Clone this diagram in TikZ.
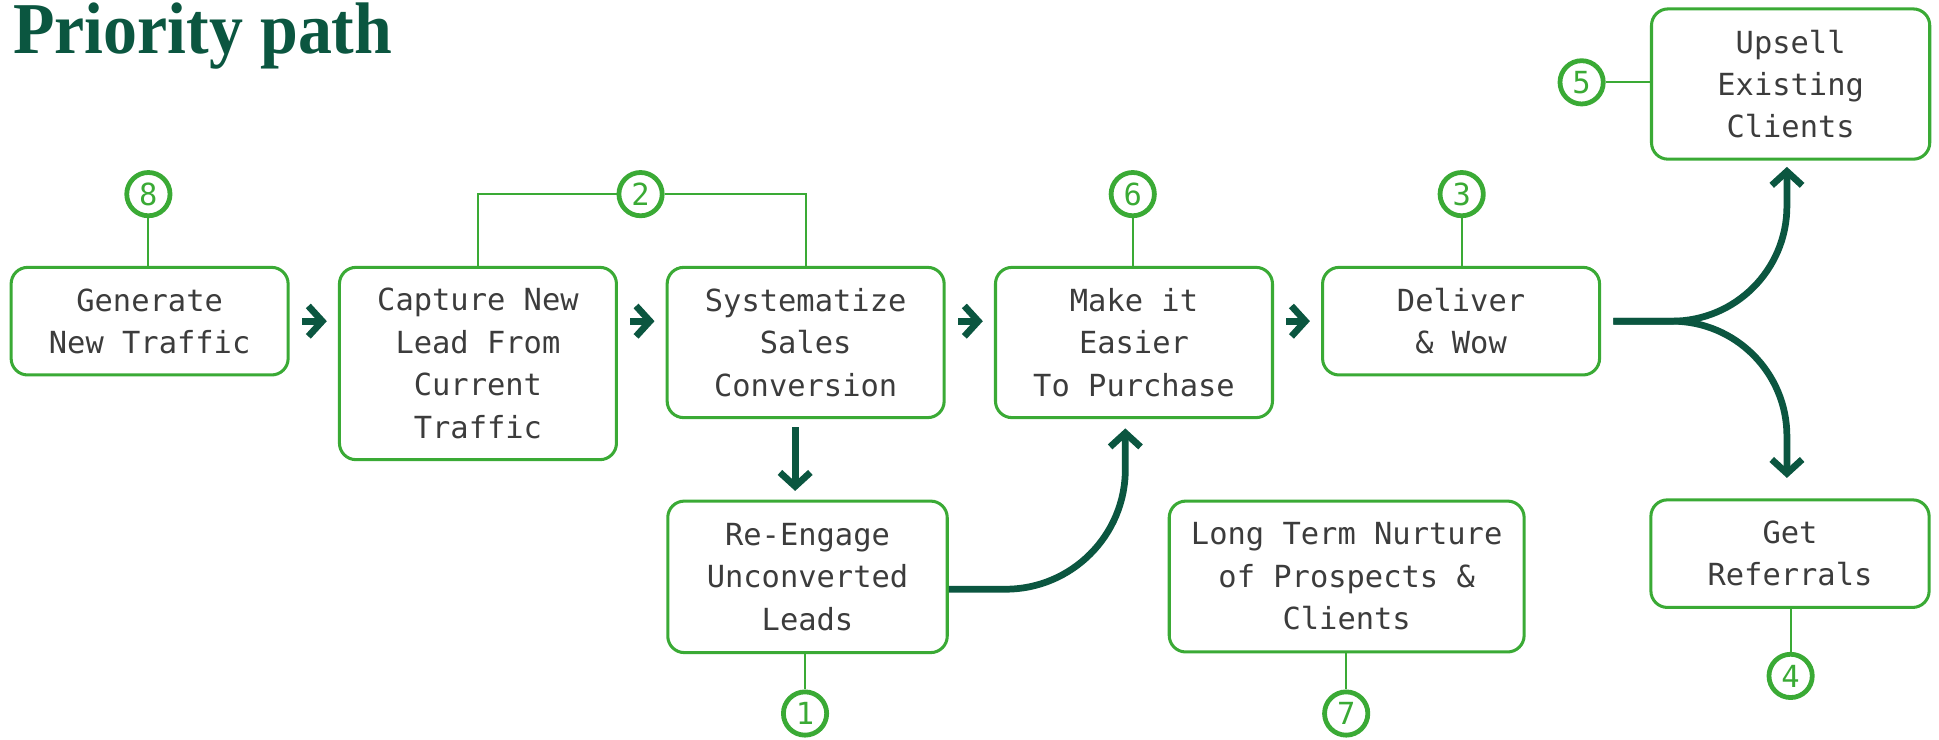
\documentclass[tikz,border=0pt]{standalone}
\usepackage{fontspec}
\setmainfont{Liberation Serif}
\newfontfamily\boxfont{DejaVu Sans Mono}
\newfontfamily\titlefont[FakeStretch=0.93]{Liberation Serif}
\usepackage{xcolor}
\usetikzlibrary{arrows.meta}

\definecolor{darkgreen}{HTML}{0B5640}
\definecolor{leafgreen}{HTML}{3AAA35}
\definecolor{textgray}{HTML}{3C3C3C}

\tikzset{
	box/.style={draw=leafgreen, line width=0.7pt, rounded corners=3.8pt, anchor=north,
		minimum width=2.24cm, minimum height=#1, align=center, inner sep=2pt,
		text=textgray, font=\boxfont\fontsize{7}{9.76}\selectfont},
	num/.style={circle, draw=leafgreen, line width=1.1pt, minimum size=0.35cm, inner sep=0pt,
		text=leafgreen, font=\boxfont\fontsize{7}{8}\selectfont},
	link/.style={draw=leafgreen, line width=0.5pt},
	flow/.style={draw=darkgreen, line width=1.55pt, ->},
	>={Straight Barb[length=3.2pt,width=7pt]}
}

\begin{document}
\begin{tikzpicture}
			
			\useasboundingbox (0,0) rectangle (15.68,5.98);
			
			% Title
			\node[anchor=base west, inner sep=0pt, text=darkgreen, font=\titlefont\bfseries\fontsize{16.8}{20}\selectfont] (title) at (0.10,5.55) {Priority path};
			
			% Main row of steps
			\node[box=0.87cm] (gen) at (1.21,3.83) {Generate\\New Traffic};
			\node[box=1.555cm] (cap) at (3.865,3.83) {Capture New\\Lead From\\Current\\Traffic};
			\node[box=1.215cm] (sys) at (6.515,3.83) {Systematize\\Sales\\Conversion};
			\node[box=1.215cm] (make) at (9.17,3.83) {Make it\\Easier\\To Purchase};
			\node[box=0.87cm] (deliv) at (11.815,3.83) {Deliver\\\& Wow};
			
			% Right column
			\node[box=1.215cm, minimum width=2.25cm] (upsell) at (14.48,5.92) {Upsell\\Existing\\Clients};
			\node[box=0.87cm, minimum width=2.25cm] (getref) at (14.475,1.95) {Get\\Referrals};
			
			% Lower row
			\node[box=1.225cm, minimum width=2.26cm] (reeng) at (6.53,1.94) {Re-Engage\\Unconverted\\Leads};
			\node[box=1.22cm, minimum width=2.87cm] (longt) at (10.89,1.94) {Long Term Nurture\\of Prospects \&\\Clients};
			
			% Priority numbers
			\node[num] (c8) at (1.20,4.41) {8};
			\node[num] (c2) at (5.18,4.41) {2};
			\node[num] (c6) at (9.16,4.41) {6};
			\node[num] (c3) at (11.82,4.41) {3};
			\node[num] (c5) at (12.79,5.314) {5};
			\node[num] (c1) at (6.51,0.21) {1};
			\node[num] (c7) at (10.886,0.21) {7};
			\node[num] (c4) at (14.48,0.514) {4};
			
			% Thin links from numbers to steps
			\draw[link] (c8.south) -- (c8.south |- gen.north);
			\draw[link] (cap.north) |- (c2.west);
			\draw[link] (c2.east) -| (sys.north);
			\draw[link] (c6.south) -- (c6.south |- make.north);
			\draw[link] (c3.south) -- (c3.south |- deliv.north);
			\draw[link] (c5.east) -- (c5.east -| upsell.west);
			\draw[link] (c1.north) -- (c1.north |- reeng.south);
			\draw[link] (c7.north) -- (c7.north |- longt.south);
			\draw[link] (c4.north) -- (c4.north |- getref.south);
			
			% Short arrows along the main row
			\draw[flow, shorten <=0.1cm, shorten >=0.09cm] (gen.east) -- (gen.east -| cap.west);
			\draw[flow, shorten <=0.1cm, shorten >=0.09cm] (cap.east |- gen.east) -- (sys.west |- gen.east);
			\draw[flow, shorten <=0.1cm, shorten >=0.09cm] (sys.east |- gen.east) -- (make.west |- gen.east);
			\draw[flow, shorten <=0.1cm, shorten >=0.09cm] (make.east |- gen.east) -- (deliv.west |- gen.east);
			
			% Down to re-engage, then back up
			\draw[flow, shorten <=0.065cm, shorten >=0.07cm] ([xshift=-0.085cm]sys.south) -- ([xshift=-0.085cm]sys.south |- reeng.north);
			\draw[flow, rounded corners=0.97cm, shorten >=0.075cm] ([yshift=-0.1cm]reeng.east) -| ([xshift=-0.07cm]make.south);
			
			% Fork after delivery
			\draw[flow, rounded corners=0.93cm, shorten >=0.05cm] ([xshift=0.1cm]deliv.east) -| ([xshift=-0.03cm]upsell.south);
			\draw[flow, rounded corners=0.93cm, shorten >=0.165cm] ([xshift=0.1cm]deliv.east) -| ([xshift=-0.025cm]getref.north);
			
		\end{tikzpicture}
\end{document}
